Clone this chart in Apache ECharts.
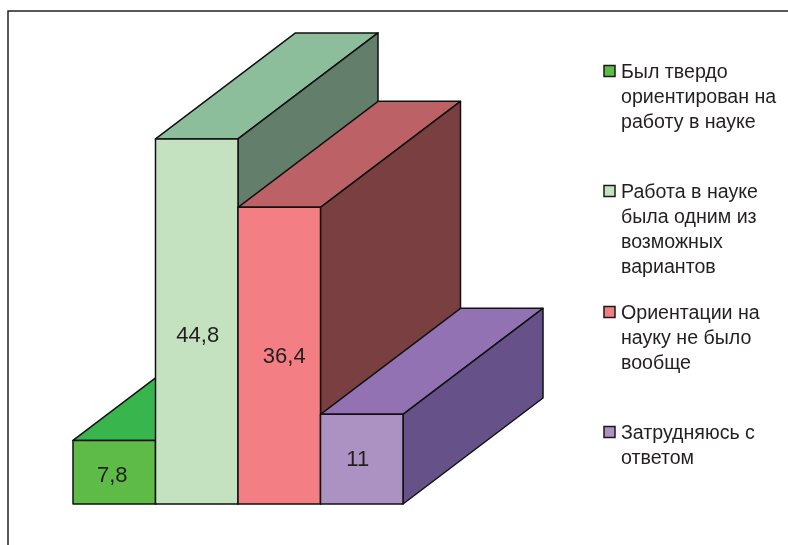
<!DOCTYPE html>
<html>
<head>
<meta charset="utf-8">
<style>html,body{margin:0;padding:0;background:#fff}#chart{width:788px;height:545px}</style>
<script src="https://cdn.jsdelivr.net/npm/echarts@6/dist/echarts.min.js"></script>
</head>
<body>
<div id="chart"></div>
<script>
// Survey answers, percent of respondents
const categories = [
  'Был твердо\nориентирован на\nработу в науке',
  'Работа в науке\nбыла одним из\nвозможных\nвариантов',
  'Ориентации на\nнауку не было\nвообще',
  'Затрудняюсь с\nответом'
];
const values = [7.8, 44.8, 36.4, 11];
const valueLabels = ['7,8', '44,8', '36,4', '11'];

// Face colours of each block
const frontColors = ['#5fbb47', '#c4e2c0', '#f37e83', '#ac91c3'];
const topColors = ['#39b54e', '#8dbe9b', '#bc6166', '#9272b2'];
const sideColors = ['#2f8a3c', '#637f6c', '#793f41', '#665289'];

// Oblique projection of the block depth, and label placement tweaks
const DEPTH_X = 140;
const DEPTH_Y = -106;
const LABEL_SHIFT_X = [-2, 1, 5, -4];
const LABEL_SHIFT_Y = [4, 14, 1, 1];
const EDGE = { stroke: '#111', lineWidth: 1.5, lineJoin: 'round' };
const FONT = '"Liberation Sans", Arial, sans-serif';
const INK = '#231f20';

function renderBlock(params, api) {
  const i = api.value(0);
  const base = api.coord([i, 0]);
  const top = api.coord([i, api.value(1)]);
  const w = api.size([1, 0])[0];
  const l = base[0] - w / 2;
  const r = base[0] + w / 2;
  const y0 = base[1];
  const y1 = top[1];
  const poly = (points, fill) => ({
    type: 'polygon',
    shape: { points },
    style: Object.assign({ fill }, EDGE)
  });
  return {
    type: 'group',
    children: [
      poly([[l, y1], [l + DEPTH_X, y1 + DEPTH_Y], [r + DEPTH_X, y1 + DEPTH_Y], [r, y1]], topColors[i]),
      poly([[r, y1], [r + DEPTH_X, y1 + DEPTH_Y], [r + DEPTH_X, y0 + DEPTH_Y], [r, y0]], sideColors[i]),
      poly([[l, y1], [r, y1], [r, y0], [l, y0]], frontColors[i]),
      {
        type: 'text',
        style: {
          x: base[0] + LABEL_SHIFT_X[i],
          y: (y0 + y1) / 2 + LABEL_SHIFT_Y[i],
          text: valueLabels[i],
          fill: INK,
          font: '22px ' + FONT,
          align: 'center',
          verticalAlign: 'middle'
        }
      }
    ]
  };
}

// Legend entries: swatch beside the first line of a wrapped caption
const legendTops = [65.5, 185.5, 306.5, 426.5];
const legendGraphics = categories.map((text, i) => ({
  type: 'group',
  x: 604,
  y: legendTops[i],
  silent: true,
  children: [
    {
      type: 'rect',
      shape: { x: 0, y: 0, width: 11, height: 11 },
      style: { fill: frontColors[i], stroke: '#1a1a1a', lineWidth: 1.5 }
    },
    {
      type: 'text',
      style: {
        x: 17,
        y: -5,
        text,
        fill: INK,
        font: '19.6px ' + FONT,
        lineHeight: 25,
        verticalAlign: 'top'
      }
    }
  ]
}));

const chart = echarts.init(document.getElementById('chart'), null, { renderer: 'canvas' });
chart.setOption({
  animation: false,
  backgroundColor: '#fff',
  grid: { left: 73, right: 385, top: 96.5, bottom: 41 },
  xAxis: { type: 'category', data: categories, show: false },
  yAxis: { type: 'value', min: 0, max: 50, show: false },
  graphic: [
    {
      type: 'polyline',
      shape: { points: [[8, 545], [8, 11], [788, 11]] },
      style: { stroke: '#231f20', lineWidth: 1.5, fill: null },
      silent: true
    },
    ...legendGraphics
  ],
  series: [{
    type: 'custom',
    renderItem: renderBlock,
    clip: false,
    data: values.map((v, i) => [i, v])
  }]
});
</script>
</body>
</html>
